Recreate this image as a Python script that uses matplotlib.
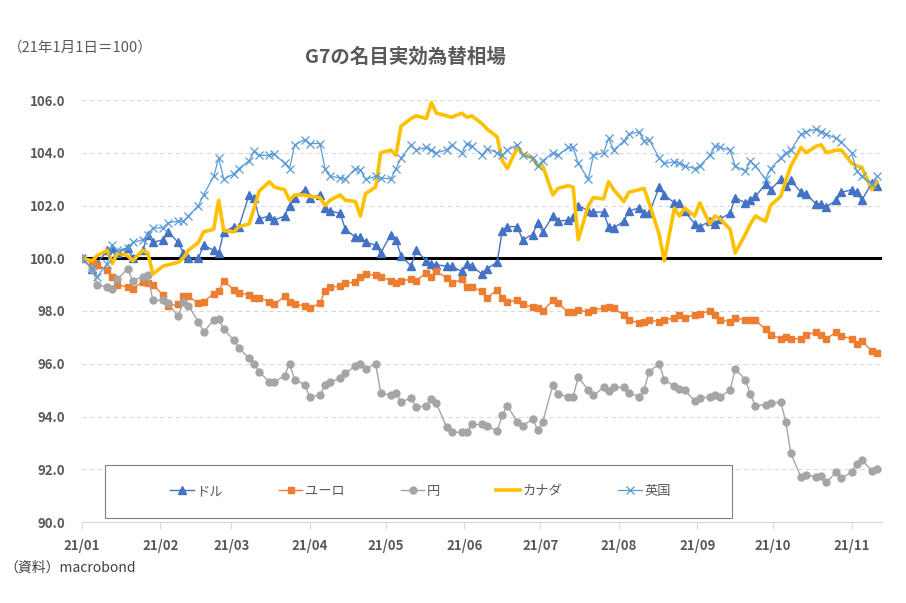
import matplotlib
matplotlib.use("Agg")
import matplotlib.pyplot as plt
from matplotlib.patches import Rectangle
import pandas as pd

plt.rcParams['font.family'] = ['Noto Sans CJK JP', 'DejaVu Sans']

# every second business day, 2021-01-01 .. 2021-11-12 (113 points)
dates = pd.bdate_range('2021-01-01', '2021-11-12')[::2]

usd = [
    100.0, 99.6, 99.8, 100.3, 100.4, 100.2, 100.4, 100.0, 100.3, 100.9,
    100.6, 100.7, 101.0, 100.6, 100.2, 100.0, 100.0, 100.5, 100.3, 100.2,
    101.0, 101.2, 101.2, 102.4, 102.3, 101.5, 101.6, 101.45, 101.6, 102.0,
    102.3, 102.6, 102.3, 102.4, 101.9, 101.8, 101.7, 101.1, 100.8, 100.8,
    100.6, 100.5, 100.2, 100.9, 100.7, 100.1, 99.7, 100.3, 99.9, 99.8,
    99.75, 99.7, 99.7, 99.5, 99.8, 99.7, 99.4, 99.6, 99.85, 101.05,
    101.2, 101.2, 100.7, 100.9, 101.35, 101.0, 101.6, 101.4, 101.45, 101.55,
    102.0, 101.8, 101.75, 101.75, 101.2, 101.15, 101.4, 101.8, 101.9, 101.7,
    101.7, 102.7, 102.4, 102.1, 102.1, 101.8, 101.3, 101.2, 101.4, 101.3,
    101.5, 101.7, 102.3, 102.1, 102.2, 102.35, 102.8, 102.6, 103.0, 102.75,
    102.95, 102.5, 102.45, 102.05, 102.05, 101.95, 102.2, 102.5, 102.6, 102.5,
    102.2, 102.85, 102.75,
]

eur = [
    100.0, 99.85, 99.75, 99.55, 99.3, 99.0, 98.9, 98.85, 99.1, 99.05,
    99.0, 98.6, 98.2, 98.25, 98.55, 98.55, 98.3, 98.35, 98.65, 98.75,
    99.15, 98.8, 98.7, 98.6, 98.5, 98.5, 98.35, 98.25, 98.55, 98.35,
    98.25, 98.2, 98.1, 98.3, 98.75, 98.9, 98.95, 99.05, 99.1, 99.3,
    99.4, 99.35, 99.3, 99.15, 99.05, 99.15, 99.2, 99.15, 99.45, 99.3,
    99.5, 99.25, 99.05, 99.2, 98.9, 98.9, 98.75, 98.5, 98.8, 98.5,
    98.35, 98.4, 98.25, 98.15, 98.1, 98.0, 98.4, 98.3, 97.95, 97.95,
    98.05, 97.95, 98.05, 98.1, 98.15, 98.1, 97.85, 97.65, 97.55, 97.6,
    97.65, 97.6, 97.65, 97.75, 97.85, 97.75, 97.85, 97.9, 98.0, 97.85,
    97.65, 97.6, 97.75, 97.65, 97.65, 97.65, 97.3, 97.1, 96.95, 97.0,
    96.95, 96.95, 97.1, 97.2, 97.1, 96.95, 97.2, 97.05, 96.95, 96.75,
    96.85, 96.5, 96.4,
]

jpy = [
    100.0, 99.6, 99.0, 98.9, 98.85, 99.2, 99.6, 99.15, 99.3, 99.35,
    98.4, 98.4, 98.3, 97.8, 98.35, 98.2, 97.6, 97.2, 97.65, 97.7,
    97.3, 96.9, 96.6, 96.2, 96.0, 95.7, 95.3, 95.3, 95.55, 96.0,
    95.4, 95.2, 94.75, 94.8, 95.2, 95.3, 95.45, 95.65, 95.9, 96.0,
    95.8, 96.0, 94.9, 94.8, 94.9, 94.55, 94.7, 94.35, 94.4, 94.65,
    94.5, 93.6, 93.4, 93.4, 93.4, 93.7, 93.7, 93.65, 93.45, 94.05,
    94.4, 93.8, 93.65, 93.9, 93.5, 93.8, 95.2, 94.85, 94.75, 94.75,
    95.5, 95.0, 94.8, 95.1, 94.95, 95.1, 95.1, 94.9, 94.75, 95.0,
    95.7, 96.0, 95.4, 95.15, 95.05, 95.0, 94.6, 94.7, 94.75, 94.8,
    94.75, 95.0, 95.8, 95.4, 94.85, 94.4, 94.45, 94.5, 94.55, 93.8,
    92.6, 91.7, 91.8, 91.7, 91.75, 91.5, 91.9, 91.65, 91.9, 92.2,
    92.35, 91.95, 92.0,
]

cad = [
    100.0, 99.9, 100.1, 100.3, 99.8, 100.2, 100.1, 99.9, 100.3, 100.2,
    99.4, 99.7, 99.75, 99.85, 100.0, 100.3, 100.6, 101.0, 101.1, 102.2,
    101.05, 101.0, 101.2, 101.3, 101.9, 102.55, 102.9, 102.7, 102.6, 102.2,
    102.4, 102.4, 102.35, 102.3, 102.0, 102.2, 102.4, 102.2, 102.15, 101.6,
    102.45, 102.7, 104.0, 104.1, 103.9, 105.0, 105.3, 105.4, 105.3, 105.9,
    105.5, 105.4, 105.35, 105.5, 105.35, 105.4, 105.1, 104.9, 104.6, 103.7,
    103.4, 104.2, 103.95, 103.8, 103.5, 103.5, 102.4, 102.65, 102.75, 102.7,
    100.7, 102.0, 102.3, 102.25, 102.9, 102.6, 102.15, 102.5, 102.6, 102.65,
    102.1, 100.9, 99.9, 101.9, 101.6, 101.9, 101.6, 102.1, 101.3, 101.6,
    101.5, 101.1, 100.2, 100.9, 101.3, 101.6, 101.4, 102.0, 102.35, 102.95,
    103.5, 104.2, 104.0, 104.25, 104.3, 104.0, 104.1, 104.1, 103.6, 103.5,
    103.45, 102.6, 102.9,
]

gbp = [
    100.0, 99.6, 99.3, 99.8, 100.5, 100.3, 100.4, 100.6, 100.7, 100.9,
    101.15, 101.15, 101.35, 101.4, 101.4, 101.6, 102.0, 102.4, 103.1, 103.8,
    103.0, 103.2, 103.4, 103.7, 104.05, 103.9, 103.9, 103.95, 103.6, 103.4,
    104.3, 104.5, 104.35, 104.35, 103.4, 103.1, 103.05, 103.0, 103.4, 103.35,
    103.0, 103.1, 103.05, 103.0, 103.4, 103.8, 104.3, 104.1, 104.2, 104.1,
    104.0, 104.1, 104.3, 104.0, 104.35, 104.25, 103.9, 104.15, 104.0, 103.9,
    104.1, 104.3, 103.9, 103.8, 103.5, 103.7, 104.0, 103.9, 104.2, 104.2,
    103.6, 103.0, 103.9, 104.0, 104.55, 104.1, 104.45, 104.7, 104.8, 104.45,
    104.5, 103.8, 103.6, 103.65, 103.6, 103.5, 103.4, 103.5, 103.9, 104.25,
    104.2, 104.1, 103.5, 103.3, 103.7, 103.5, 103.0, 103.4, 103.8, 104.0,
    104.1, 104.7, 104.8, 104.9, 104.8, 104.7, 104.55, 104.4, 104.0, 103.3,
    103.1, 102.8, 103.1,
]

month_ticks = pd.date_range('2021-01-01', '2021-11-01', freq='MS')
month_labels = [d.strftime('%y/%m') for d in month_ticks]
y_ticks = [90, 92, 94, 96, 98, 100, 102, 104, 106]

TEXT = '#595959'

fig = plt.figure(figsize=(9.06, 6.03), dpi=100, facecolor='white')
ax = fig.add_axes([82 / 906, 1 - 522 / 603, 800 / 906, 422 / 603])

ax.plot(dates, usd, color='#4472C4', lw=1, marker='^', ms=6, label='ドル', zorder=3)
ax.plot(dates, eur, color='#ED7D31', lw=1, marker='s', ms=5, label='ユーロ', zorder=3)
ax.plot(dates, jpy, color='#A5A5A5', lw=1, marker='o', ms=5, label='円', zorder=3)
ax.plot(dates, cad, color='#FFC000', lw=2.6, label='カナダ', zorder=3)
ax.plot(dates, gbp, color='#5B9BD5', lw=0.9, marker='x', ms=6, mew=0.9, label='英国', zorder=3)

ax.axhline(100, color='black', lw=2.2, zorder=2)

ax.set_ylim(90, 106)
ax.set_xlim(pd.Timestamp('2021-01-01'), pd.Timestamp('2021-11-13'))
ax.set_yticks(y_ticks)
ax.set_yticklabels([f'{v:.1f}' for v in y_ticks], fontweight='bold')
ax.set_xticks(month_ticks)
ax.set_xticklabels(month_labels, fontweight='bold')

ax.yaxis.grid(True, linestyle=(0, (4, 3)), color='#D9D9D9', lw=0.8)
ax.set_axisbelow(True)
for side in ['left', 'right', 'top']:
    ax.spines[side].set_visible(False)
ax.spines['bottom'].set_color('#D9D9D9')
ax.tick_params(axis='y', length=0, pad=12, labelsize=9.5, labelcolor=TEXT)
ax.tick_params(axis='x', length=5, color='#D9D9D9', pad=7, labelsize=9.5, labelcolor=TEXT)

# legend box
fig.patches.append(Rectangle((105 / 906, 1 - 518 / 603), 627 / 906, 53 / 603,
                             transform=fig.transFigure, facecolor='white',
                             edgecolor='#7F7F7F', lw=0.8, zorder=5))
handles, labels = ax.get_legend_handles_labels()
leg = fig.legend(handles, labels, loc='center',
                 bbox_to_anchor=(158 / 906, 1 - 518 / 603, 525 / 906, 53 / 603),
                 mode='expand', ncol=5, frameon=False, fontsize=9.5,
                 handlelength=1.8, handletextpad=0.2)
leg.set_zorder(6)
for t in leg.get_texts():
    t.set_color(TEXT)

fig.text(405 / 906, 1 - 57 / 603, 'G7の名目実効為替相場', ha='center', va='center',
         fontsize=14, fontweight='bold', color=TEXT)
fig.text(8 / 906, 1 - 48 / 603, '（21年1月1日＝100）', ha='left', va='center',
         fontsize=10.5, color=TEXT)
fig.text(4 / 906, 1 - 568 / 603, '（資料）macrobond', ha='left', va='center',
         fontsize=10, color='#404040')

fig.savefig('out.png', dpi=100)
